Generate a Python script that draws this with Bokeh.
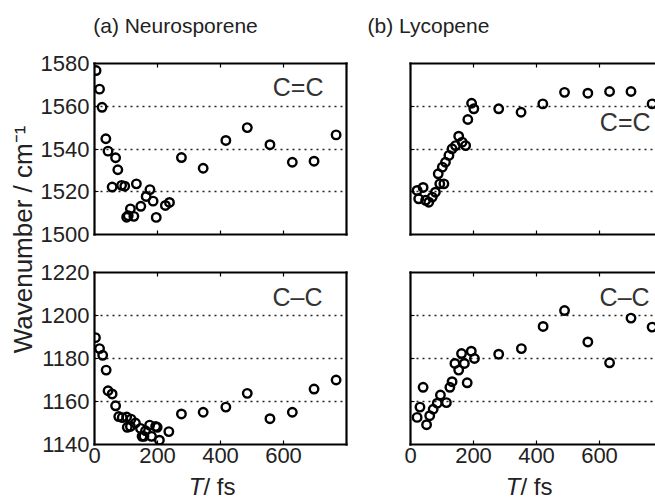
import math
from bokeh.plotting import figure
from bokeh.layouts import row, column
from bokeh.models import Range1d, LinearAxis, FixedTicker, Grid, Label, ColumnDataSource
from bokeh.embed import file_html
from bokeh.resources import INLINE

FONT = "Liberation Sans"

# ---------------- data ----------------
panel_titles = ["(a) Neurosporene", "(b) Lycopene"]
mode_labels = ["C=C", "C\u2013C"]
y_label = "Wavenumber / cm\u207b\u00b9"
x_label_var = "T"
x_label_unit = "/ fs"
x_ticks = [0, 200, 400, 600]
cc_double_ticks = [1500, 1520, 1540, 1560, 1580]
cc_single_ticks = [1140, 1160, 1180, 1200, 1220]

neuro_double_t = [5, 16, 24, 36, 43, 56, 67, 74, 86, 96, 102, 107, 114, 125, 133, 147, 164, 176,
                  186, 196, 225, 238, 276, 345, 417, 485, 557, 628, 697, 767]
neuro_double_v = [1576.7, 1568.0, 1559.5, 1544.8, 1539.0, 1522.2, 1535.9, 1530.3, 1523.0, 1522.6,
                  1508.1, 1508.8, 1512.0, 1508.5, 1523.7, 1513.2, 1517.8, 1521.0, 1515.6, 1508.0,
                  1513.6, 1515.0, 1536.0, 1531.0, 1544.0, 1550.0, 1542.0, 1533.8, 1534.3, 1546.6]

neuro_single_t = [3, 16, 26, 37, 43, 56, 67, 77, 88, 102, 104, 114, 116, 130, 146, 151, 157, 162,
                  175, 181, 194, 199, 206, 236, 276, 345, 417, 485, 557, 628, 697, 767]
neuro_single_v = [1189.7, 1184.6, 1181.5, 1174.6, 1165.0, 1163.5, 1158.0, 1153.0, 1152.5, 1152.8,
                  1148.0, 1148.4, 1151.8, 1150.0, 1147.5, 1143.8, 1143.8, 1146.4, 1149.0, 1143.8,
                  1148.4, 1148.0, 1142.0, 1146.0, 1154.2, 1155.0, 1157.4, 1163.8, 1152.0, 1155.0,
                  1165.8, 1170.0]

lyco_double_t = [21, 26, 40, 48, 58, 69, 79, 88, 93, 101, 106, 111, 122, 132, 143, 153, 164, 175,
                 182, 194, 201, 280, 351, 420, 489, 563, 632, 700, 767]
lyco_double_v = [1520.6, 1516.7, 1522.0, 1516.0, 1515.1, 1517.5, 1519.8, 1528.4, 1523.7, 1531.5,
                 1523.7, 1533.8, 1537.0, 1540.1, 1541.6, 1546.0, 1543.2, 1541.6, 1553.8, 1561.4,
                 1558.8, 1558.8, 1557.2, 1561.1, 1566.5, 1566.1, 1566.9, 1566.9, 1561.1]

lyco_single_t = [21, 30, 40, 51, 61, 72, 85, 95, 114, 125, 132, 141, 153, 162, 171, 180, 193, 203,
                 280, 352, 421, 489, 563, 632, 700, 767]
lyco_single_v = [1152.6, 1157.4, 1166.6, 1149.2, 1153.4, 1156.4, 1159.2, 1163.0, 1159.5, 1166.6,
                 1169.2, 1177.7, 1174.6, 1182.3, 1177.7, 1168.7, 1183.4, 1180.0, 1182.0, 1184.6,
                 1194.9, 1202.3, 1187.7, 1178.0, 1198.8, 1194.6]


# ---------------- helpers ----------------
def labeled_axis(ticks, standoff):
    return LinearAxis(
        ticker=FixedTicker(ticks=ticks),
        axis_line_width=2.2, axis_line_color="black", axis_line_cap="square",
        major_tick_in=4, major_tick_out=0, minor_tick_in=0, minor_tick_out=0,
        major_tick_line_width=1.2, major_tick_line_color="black",
        major_label_standoff=standoff,
        major_label_text_font=FONT, major_label_text_font_size="22px",
        major_label_text_color="#222222",
    )


def bare_axis(minor):
    # frame line with small inward tick marks (minor ticks carry no labels)
    return LinearAxis(
        ticker=FixedTicker(ticks=[], minor_ticks=minor),
        axis_line_width=2.2, axis_line_color="black", axis_line_cap="square",
        major_tick_in=0, major_tick_out=0, minor_tick_in=4, minor_tick_out=0,
        minor_tick_line_width=1.2, minor_tick_line_color="black",
        major_label_standoff=0,
    )


def panel(width, height, borders, xend, yticks, xs, ys, ylabels, xlabels, right_axis,
          note, note_x, note_y):
    l, r, t, b = borders
    p = figure(width=width, height=height, x_range=Range1d(0, xend),
               y_range=Range1d(yticks[0], yticks[-1]),
               x_axis_type=None, y_axis_type=None, toolbar_location=None,
               output_backend="svg",
               min_border_left=l, min_border_right=r, min_border_top=t, min_border_bottom=b)
    p.outline_line_color = None
    p.background_fill_color = "white"
    p.border_fill_color = "white"
    if ylabels:
        p.add_layout(labeled_axis(yticks, 5), "left")
    else:
        p.add_layout(bare_axis(yticks[1:-1]), "left")
    if xlabels:
        p.add_layout(labeled_axis(x_ticks, 3), "below")
    else:
        p.add_layout(bare_axis(x_ticks[1:]), "below")
    p.add_layout(bare_axis(x_ticks[1:]), "above")
    if right_axis:
        p.add_layout(bare_axis([]), "right")
    p.add_layout(Grid(dimension=1, ticker=FixedTicker(ticks=yticks[1:-1]),
                      grid_line_color="#222222", grid_line_width=1.4,
                      grid_line_dash="2 4"))
    src = ColumnDataSource(dict(t=xs, v=ys))
    p.scatter("t", "v", source=src, marker="circle", size=8.5, fill_color=None,
              line_color="black", line_width=2.4)
    p.add_layout(Label(x=note_x, y=note_y, text=note, text_align="right",
                       text_baseline="middle", text_font=FONT, text_font_size="25px",
                       text_color="#333333"))
    return p


LEFT_END = 800
RIGHT_END = 245 / 0.315

tl = panel(324, 206, (58, 14, 19, 16), LEFT_END, cc_double_ticks,
           neuro_double_t, neuro_double_v, True, False, True, mode_labels[0], 727, 1569)
tr = panel(295, 206, (50, 0, 19, 16), RIGHT_END, cc_double_ticks,
           lyco_double_t, lyco_double_v, False, False, False, mode_labels[0], 762, 1552.4)
bl = panel(324, 222, (58, 14, 22, 28), LEFT_END, cc_single_ticks,
           neuro_single_t, neuro_single_v, True, True, True, mode_labels[1], 724, 1208.8)
br = panel(295, 222, (50, 0, 22, 28), RIGHT_END, cc_single_ticks,
           lyco_single_t, lyco_single_v, False, True, False, mode_labels[1], 759, 1208.8)


def strip(width, height):
    f = figure(width=width, height=height, x_range=Range1d(0, width), y_range=Range1d(0, height),
               x_axis_type=None, y_axis_type=None, toolbar_location=None,
               output_backend="svg", min_border=0)
    f.outline_line_color = None
    return f


# panel titles
top = strip(619, 44)
for txt, cx in zip(panel_titles, (139, 392)):
    top.add_layout(Label(x=cx, y=19, text=txt, text_align="center", text_baseline="middle",
                         text_font=FONT, text_font_size="21px", text_color="#222222"))

# x axis labels "T/ fs" (italic T)
bottom = strip(619, 27)
for sx in (167, 484):
    bottom.add_layout(Label(x=sx, y=13, text=x_label_var, text_align="right",
                            text_baseline="middle", text_font=FONT, text_font_size="24px",
                            text_font_style="italic", text_color="#222222"))
    bottom.add_layout(Label(x=sx, y=13, text=x_label_unit, text_align="left",
                            text_baseline="middle", text_font=FONT, text_font_size="24px",
                            text_color="#222222"))

# y label
lf = strip(36, 499)
lf.add_layout(Label(x=22, y=260, text=y_label, angle=math.pi / 2, text_align="center",
                    text_baseline="middle", text_font=FONT, text_font_size="26px",
                    text_color="#222222"))

layout = row(lf, column(top, row(tl, tr), row(bl, br), bottom))

open("out.html", "w").write(file_html(layout, INLINE))
